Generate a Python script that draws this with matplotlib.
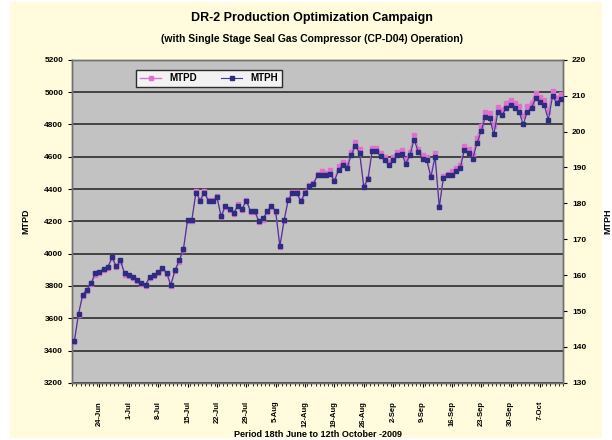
import matplotlib
matplotlib.use("Agg")
import matplotlib.pyplot as plt
from matplotlib.patches import Rectangle
import numpy as np

plt.rcParams['font.family'] = ['Liberation Sans', 'DejaVu Sans']
plt.rcParams['font.weight'] = 'bold'
plt.rcParams['axes.labelweight'] = 'bold'

# daily values, 18 Jun - 12 Oct 2009
mtpd = [3450, 3620, 3740, 3770, 3810, 3870, 3880, 3900, 3910, 3970,
        3915, 3950, 3870, 3860, 3850, 3830, 3810, 3800, 3850, 3860,
        3880, 3905, 3875, 3800, 3890, 3950, 4020, 4205, 4200, 4385,
        4335, 4385, 4330, 4330, 4355, 4225, 4290, 4270, 4245, 4305,
        4270, 4335, 4255, 4255, 4195, 4210, 4255, 4290, 4255, 4040,
        4200, 4340, 4380, 4380, 4330, 4380, 4425, 4440,
        4490, 4510, 4500, 4515, 4455, 4540, 4570, 4550, 4630, 4690,
        4645, 4420, 4467, 4655, 4655, 4625, 4600, 4570, 4600, 4630,
        4640, 4580, 4630, 4735, 4650, 4610, 4600, 4480, 4620, 4293,
        4478, 4490, 4510, 4530, 4550, 4665, 4645, 4612, 4715, 4790,
        4880, 4870, 4790, 4910, 4890, 4935, 4952, 4935, 4912, 4850,
        4912, 4935, 4995, 4970, 4950, 4880, 5005, 4965, 4990]

mtph = [141.6, 149.2, 154.6, 156.0, 157.8, 160.5, 160.9, 161.8, 162.3, 165.0,
        162.5, 164.1, 160.5, 160.0, 159.6, 158.7, 157.8, 157.3, 159.6, 160.0,
        160.9, 162.0, 160.7, 157.3, 161.4, 164.1, 167.2, 175.5, 175.3, 183.0,
        180.8, 183.0, 180.6, 180.6, 181.7, 176.4, 179.4, 178.5, 177.3, 179.4,
        178.5, 180.8, 177.8, 177.8, 175.1, 175.8, 177.8, 179.4, 177.8, 168.1,
        175.3, 181.0, 182.8, 182.8, 180.6, 182.8, 184.8, 185.5,
        187.8, 188.0, 187.8, 188.2, 186.2, 189.3, 190.7, 189.8, 193.4, 196.1,
        194.0, 184.6, 186.7, 194.5, 194.5, 193.1, 192.0, 190.7, 192.0, 193.4,
        193.8, 191.1, 193.4, 197.7, 194.3, 192.5, 192.0, 187.3, 192.9, 179.0,
        187.2, 187.8, 188.0, 188.9, 189.8, 194.9, 194.0, 192.5, 196.8, 200.2,
        204.2, 203.8, 199.2, 205.6, 204.7, 206.7, 207.4, 206.7, 205.6, 202.0,
        205.6, 206.7, 209.4, 208.3, 207.4, 203.3, 209.8, 208.0, 209.2]

week_labels = ['24-Jun', '1-Jul', '8-Jul', '15-Jul', '22-Jul', '29-Jul', '5-Aug',
               '12-Aug', '19-Aug', '26-Aug', '2-Sep', '9-Sep', '16-Sep',
               '23-Sep', '30-Sep', '7-Oct']

x = np.arange(len(mtpd))

fig = plt.figure(figsize=(6.12, 4.4), dpi=100, facecolor='white')
fig.patches.append(Rectangle((0.016, 0.005), 0.968, 0.99, transform=fig.transFigure,
                             facecolor='#fffbdc', edgecolor='none', zorder=-10))

ax = fig.add_axes([0.118, 0.13, 0.802, 0.734])
ax.set_facecolor('#c2c2c2')
ax2 = ax.twinx()

l1, = ax.plot(x, mtpd, color='#e070d0', lw=1.0, marker='s', ms=2.5,
              mfc='#e070d0', mec='#e070d0', label='MTPD', zorder=3)
l2, = ax2.plot(x, mtph, color='#3a3a90', lw=0.8, marker='s', ms=2.2,
               mfc='#2c2c80', mec='#2c2c80', label='MTPH', zorder=4)

ax.set_xlim(-0.5, len(mtpd) - 0.5)
ax.set_ylim(3200, 5200)
ax2.set_ylim(130, 220)
ax.set_yticks(np.arange(3200, 5201, 200))
ax2.set_yticks(np.arange(130, 221, 10))
ax.yaxis.grid(True, color='#383838', lw=1.3)
ax.set_axisbelow(True)

ax.set_xticks(np.arange(6, len(mtpd), 7))
ax.set_xticklabels(week_labels, rotation=90, fontsize=5.5)
ax.set_xticks(np.arange(-0.5, len(mtpd), 1), minor=True)
ax.tick_params(axis='x', which='major', length=3, pad=10)
ax.tick_params(axis='x', which='minor', length=2)
ax.tick_params(axis='y', labelsize=6, length=3)
ax2.tick_params(axis='y', labelsize=6, length=3)

for a in (ax, ax2):
    for s in a.spines.values():
        s.set_color('#707070')
        s.set_linewidth(1.0)

ax.set_ylabel('MTPD', fontsize=6.5, labelpad=10)
ax2.set_ylabel('MTPH', fontsize=6.5, labelpad=12)
ax.set_xlabel('Period 18th June to 12th October -2009', fontsize=6.5, labelpad=2)

leg = ax.legend(handles=[l1, l2], loc='upper left', ncol=2, fontsize=7,
                bbox_to_anchor=(0.12, 0.985), frameon=True, fancybox=False,
                handlelength=2.2, columnspacing=2.5, borderpad=0.4)
leg.get_frame().set_edgecolor('black')
leg.get_frame().set_linewidth(1.0)
leg.set_zorder(10)

fig.text(0.51, 0.958, 'DR-2 Production Optimization Campaign', ha='center',
         va='center', fontsize=9, fontweight='bold')
fig.text(0.51, 0.912, '(with Single Stage Seal Gas Compressor (CP-D04) Operation)',
         ha='center', va='center', fontsize=7.5, fontweight='bold')

fig.savefig('out.png', dpi=100)
